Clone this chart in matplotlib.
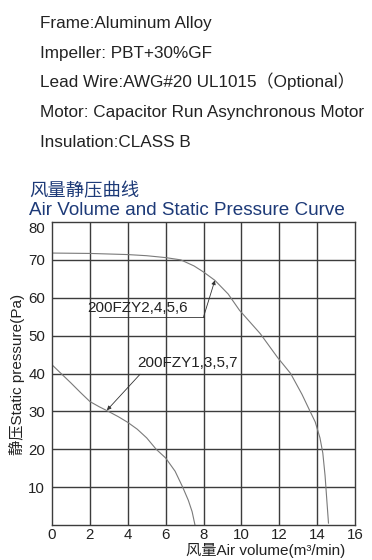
import matplotlib
matplotlib.use("Agg")
import matplotlib.pyplot as plt

plt.rcParams['font.family'] = ['Liberation Sans', 'Noto Sans CJK SC', 'DejaVu Sans']

# ---- data ----
spec_lines = [
    "Frame:Aluminum Alloy",
    "Impeller: PBT+30%GF",
    "Lead Wire:AWG#20 UL1015\uff08Optional\uff09",
    "Motor: Capacitor Run Asynchronous Motor",
    "Insulation:CLASS B",
]
title_cn = "风量静压曲线"
title_en = "Air Volume and Static Pressure Curve"
xlabel = "风量Air volume(m³/min)"
ylabel = "静压Static pressure(Pa)"

x_ticks = [0, 2, 4, 6, 8, 10, 12, 14, 16]
y_ticks = [10, 20, 30, 40, 50, 60, 70, 80]

series1_name = "200FZY2,4,5,6"
series1_x = [0, 2, 4, 5, 6, 6.8, 7.5, 8.0, 8.6, 9.3, 9.9, 11.0, 11.9, 12.6, 13.2, 13.6, 13.9, 14.15, 14.3, 14.42, 14.52, 14.6]
series1_y = [71.8, 71.7, 71.4, 71.1, 70.6, 70.0, 68.4, 66.8, 64.6, 61.0, 56.7, 50.5, 44.3, 40.0, 34.5, 30.3, 27.2, 23.0, 19.0, 13.0, 6.0, 0.5]

series2_name = "200FZY1,3,5,7"
series2_x = [0, 0.5, 1.0, 1.5, 2.0, 2.5, 2.9, 3.5, 4.0, 4.5, 5.0, 5.5, 6.0, 6.5, 6.9, 7.2, 7.4, 7.55]
series2_y = [42.3, 39.9, 37.5, 35.0, 32.6, 31.2, 30.2, 28.6, 27.1, 25.3, 23.0, 20.0, 17.7, 14.2, 10.0, 6.5, 3.5, 0.0]

# annotation anchors (data coords)
ann1_text = (1.85, 57.3)
ann1_line = [(2.5, 54.9), (8.0, 54.9)]
ann1_tip = (8.6, 64.6)
ann2_text = (4.5, 42.7)
ann2_line = [(4.65, 39.8), (8.8, 39.8)]
ann2_tip = (2.9, 30.3)

W, H = 372, 560
fig = plt.figure(figsize=(W / 100, H / 100), dpi=100)

text_col = '#222222'
title_col = '#1d3a78'

spec_baselines = [28, 58, 87, 117, 147]
for s, b in zip(spec_lines, spec_baselines):
    fig.text(40 / W, 1 - b / H, s, fontsize=12.3, color=text_col, va='baseline', ha='left')

fig.text(29 / W, 1 - 196 / H, title_cn, fontsize=13.2, color=title_col, va='baseline', ha='left')
fig.text(29 / W, 1 - 215 / H, title_en, fontsize=13.6, color=title_col, va='baseline', ha='left')

left, right, top, bottom = 52, 355, 222, 525
ax = fig.add_axes([left / W, 1 - bottom / H, (right - left) / W, (bottom - top) / H])
ax.set_xlim(0, 16)
ax.set_ylim(0, 80)

grid_col = '#3c3c3c'
for xv in x_ticks[1:-1]:
    ax.axvline(xv, color=grid_col, lw=1.0, zorder=1)
for yv in y_ticks[:-1]:
    ax.axhline(yv, color=grid_col, lw=1.0, zorder=1)
for sp in ax.spines.values():
    sp.set_color(grid_col)
    sp.set_linewidth(1.0)

ax.set_xticks(x_ticks)
ax.set_xticklabels([str(v) for v in x_ticks])
ax.set_yticks(y_ticks)
ylabels = ax.set_yticklabels([str(v) for v in y_ticks])
ylabels[-1].set_verticalalignment('top')
ax.tick_params(length=0, labelsize=10.8, colors=text_col, pad=5)
ax.tick_params(axis='x', pad=2)

curve_col = '#7a7a7a'
ax.plot(series1_x, series1_y, color=curve_col, lw=0.8, zorder=2)
ax.plot(series2_x, series2_y, color=curve_col, lw=0.8, zorder=2)

ann_col = '#333333'
ax.text(*ann1_text, series1_name, fontsize=11, color=text_col, va='center', ha='left', zorder=3)
ax.plot([p[0] for p in ann1_line], [p[1] for p in ann1_line], color=ann_col, lw=0.6, zorder=3)
ax.annotate('', xy=ann1_tip, xytext=ann1_line[1],
            arrowprops=dict(arrowstyle='-|>', lw=0.6, color=ann_col, mutation_scale=6, shrinkA=0, shrinkB=0))
ax.text(*ann2_text, series2_name, fontsize=11, color=text_col, va='center', ha='left', zorder=3)
ax.plot([p[0] for p in ann2_line], [p[1] for p in ann2_line], color=ann_col, lw=0.6, zorder=3)
ax.annotate('', xy=ann2_tip, xytext=ann2_line[0],
            arrowprops=dict(arrowstyle='-|>', lw=0.6, color=ann_col, mutation_scale=6, shrinkA=0, shrinkB=0))

fig.text(17 / W, 1 - 374 / H, ylabel, fontsize=11, color=text_col, rotation=90, va='center', ha='center')
fig.text(345 / W, 1 - 551 / H, xlabel, fontsize=11, color=text_col, va='center', ha='right')

fig.savefig('out.png', dpi=100, facecolor='white')
